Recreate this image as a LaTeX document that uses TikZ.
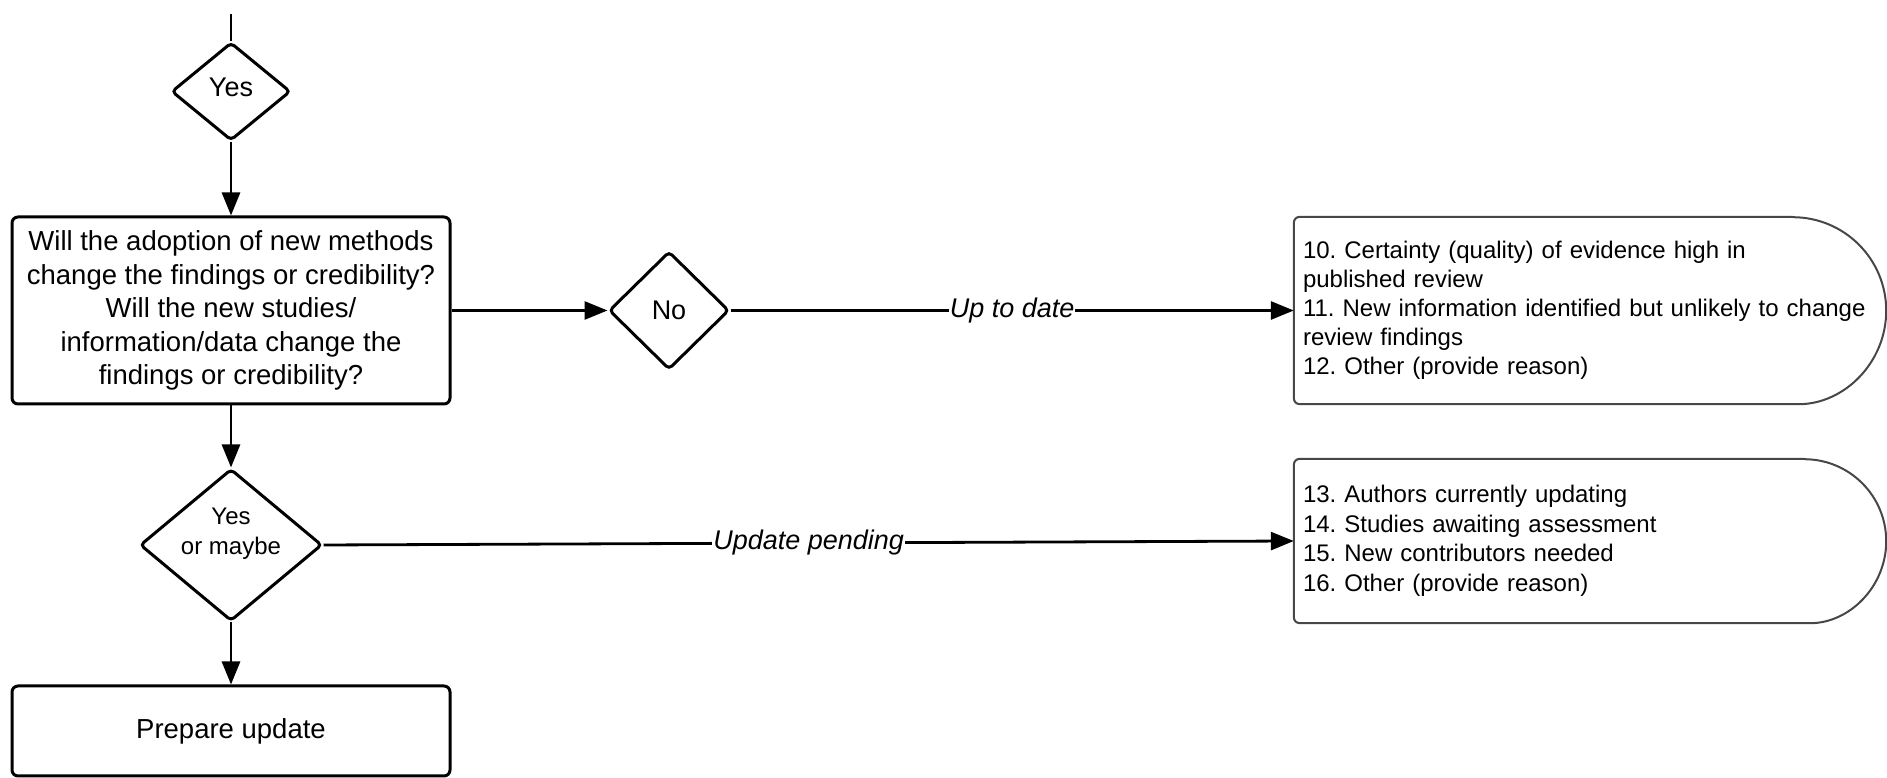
\documentclass[tikz,border=0pt]{standalone}
\usepackage{fontspec}
\setmainfont{Liberation Sans}
\frenchspacing
\usetikzlibrary{shapes.geometric,arrows.meta}
\begin{document}
\frenchspacing
\begin{tikzpicture}[x=1pt,y=1pt,
  box/.style={draw, line width=3pt, rounded corners=6pt, align=center, inner sep=0pt,
    font=\fontsize{27.5}{33.5}\selectfont},
  dec/.style={diamond, draw, line width=3pt, rounded corners=4pt, inner sep=0pt, align=center, aspect=1.2},
  conn/.style={line width=2.8pt, -{Triangle[length=23pt,width=18pt]}},
  plain/.style={line width=2.8pt},
  lab/.style={fill=white, inner sep=1pt, font=\fontsize{27}{32}\selectfont\itshape},
  rtext/.style={rectangle, text width=574pt, inner xsep=9pt, inner ysep=4pt, align=left,
    font=\fontsize{24}{29}\selectfont},
  rshape/.style={draw=black!72, line width=2pt}]
\useasboundingbox (0,0) rectangle (1887,778);

\coordinate (top) at (231,764);
\node[dec, minimum width=119pt, minimum height=98pt,
  label={[yshift=4pt, font=\fontsize{27}{32}\selectfont]center:Yes}] (yes) at (231,686.5) {};
\node[box, minimum width=438pt, minimum height=187pt] (q) at (231,467.5)
  {Will the adoption of new methods\\change the findings or credibility?\\Will the new studies/\\information/data change the\\findings or credibility?};
\node[dec, minimum width=120pt, minimum height=118pt, font=\fontsize{27}{32}\selectfont] (no) at (669,467.5) {No};
\node[rtext, minimum height=187pt] (r1) at (1590,467.5)
  {10. Certainty (quality) of evidence high in\\published review\\11. New information identified but unlikely to change\\review findings\\12. Other (provide reason)};
\node[dec, minimum width=182pt, minimum height=152pt,
  label={[yshift=11pt, align=center, font=\fontsize{24}{30}\selectfont]center:{Yes\\or maybe}}] (ym) at (231,233) {};
\node[rtext, minimum height=164pt, font=\fontsize{24}{29.6}\selectfont] (r2) at (1590,237)
  {13. Authors currently updating\\14. Studies awaiting assessment\\15. New contributors needed\\16. Other (provide reason)};
\node[box, minimum width=438pt, minimum height=90pt] (prep) at (231,47) {Prepare update};

\draw[rshape, rounded corners=6pt] ([xshift=-93.5pt]r1.north east) -- (r1.north west) -- (r1.south west) -- ([xshift=-93.5pt]r1.south east) [sharp corners] arc[start angle=-90, end angle=90, radius=93.5pt];
\draw[rshape, rounded corners=6pt] ([xshift=-82pt]r2.north east) -- (r2.north west) -- (r2.south west) -- ([xshift=-82pt]r2.south east) [sharp corners] arc[start angle=-90, end angle=90, radius=82pt];

\draw[plain] (top) -- (yes.north);
\draw[conn] (yes.south) -- (q.north);
\draw[conn] (q.east) -- (no.west);
\draw[conn] (no.east) -- node[lab]{Up to date} (r1.west);
\draw[conn] (q.south) -- (ym.north);
\draw[conn] (ym.east) -- node[lab]{Update pending} (r2.west);
\draw[conn] (ym.south) -- (prep.north);
\end{tikzpicture}
\end{document}
